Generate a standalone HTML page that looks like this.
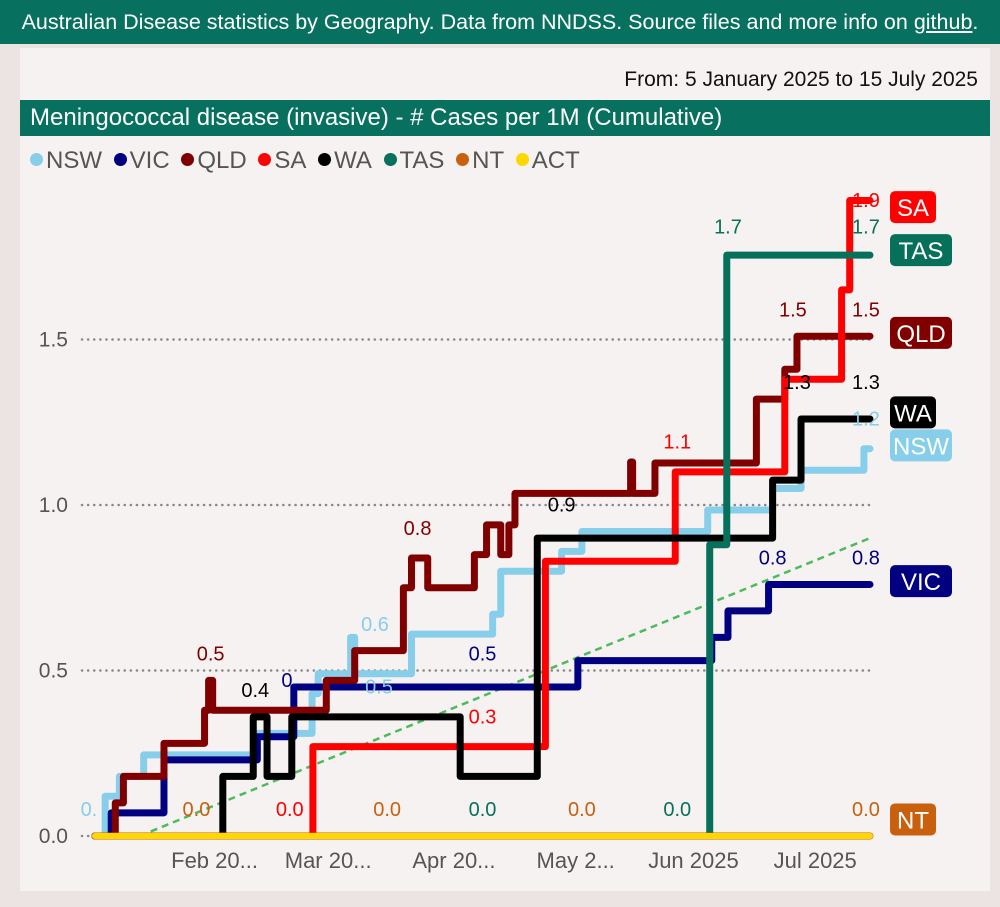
<!DOCTYPE html>
<html><head><meta charset="utf-8">
<style>
body{margin:0;width:1000px;height:907px;background:#ece3e3;font-family:"Liberation Sans","DejaVu Sans",sans-serif;overflow:hidden;position:relative}
#banner{position:absolute;left:0;top:0;width:1000px;height:44px;background:#08705f;color:#fff;font-size:21.5px;line-height:44px;text-align:center;white-space:nowrap}
#banner u{text-decoration:underline}
#card{position:absolute;left:20px;top:48px;width:970px;height:843px;background:#f7f2f2}
#from{position:absolute;right:12px;top:20px;font-size:21px;color:#111}
#title{position:absolute;left:0;top:52px;width:970px;height:36px;background:#08705f;color:#fff;font-size:24px;line-height:36px;padding-left:10px;box-sizing:border-box;white-space:nowrap}
#legend{position:absolute;left:10px;top:99px;font-size:24px;color:#555;white-space:nowrap}
#legend span{margin-right:5px}
#legend i{display:inline-block;width:13px;height:13px;border-radius:50%;margin-right:3px;vertical-align:2px}
svg{position:absolute;left:0;top:0}
</style></head><body>
<div id="banner">Australian Disease statistics by Geography. Data from NNDSS. Source files and more info on <u>github</u>.</div>
<div id="card">
<div id="from">From: 5 January 2025 to 15 July 2025</div>
<div id="title">Meningococcal disease (invasive) - # Cases per 1M (Cumulative)</div>
<div id="legend">
<span><i style="background:#87ceeb"></i>NSW</span>
<span><i style="background:#000080"></i>VIC</span>
<span><i style="background:#800000"></i>QLD</span>
<span><i style="background:#ff0000"></i>SA</span>
<span><i style="background:#000"></i>WA</span>
<span><i style="background:#07705a"></i>TAS</span>
<span><i style="background:#c8600e"></i>NT</span>
<span><i style="background:#ffd700"></i>ACT</span>
</div>
</div>
<svg id="chart" width="1000" height="907"></svg>
<script>
const yTicks=[0,0.5,1.0,1.5];
const xTickDays=[27,55,86,116,147,177];
const xTickLabels=["Feb 20...","Mar 20...","Apr 20...","May 2...","Jun 2025","Jul 2025"];
const seriesNames=["NSW","VIC","QLD","SA","WA","TAS","NT","ACT"];
const seriesColors=["#87ceeb","#000080","#800000","#ff0000","#000000","#07705a","#c8600e","#ffd700"];
const nswDays=[0,2.5,6,12,40,53.5,55,62,63,64,78,98,100,115,120,151,167,174,189.5,191];
const nswVals=[0,0.12,0.18,0.245,0.31,0.43,0.49,0.49,0.6,0.49,0.61,0.67,0.8,0.86,0.92,0.985,1.05,1.105,1.17,1.17];
const vicDays=[0,4,17,40,49,119,152,156,166,191];
const vicVals=[0,0.07,0.23,0.3,0.45,0.53,0.6,0.68,0.76,0.76];
const qldDays=[0,5,7,17,27,28,29,57,64,76,78,80,82,93.5,96.5,98,100,102,103.5,131,132,132.5,138,163,170,173,191];
const qldVals=[0,0.1,0.18,0.28,0.38,0.47,0.38,0.47,0.56,0.75,0.84,0.84,0.75,0.85,0.94,0.94,0.85,0.94,1.035,1.035,1.13,1.035,1.127,1.32,1.41,1.51,1.51];
const saDays=[0,53.7,111,143,170,184,186,191];
const saVals=[0,0.27,0.83,1.1,1.38,1.65,1.92,1.92];
const waDays=[0,31.5,39,42.4,48.5,90,109,167,174,191];
const waVals=[0,0.18,0.36,0.18,0.36,0.18,0.9,1.075,1.26,1.26];
const tasDays=[0,151.5,155.7,191];
const tasVals=[0,0.88,1.755,1.755];
const ntDays=[0,191];
const ntVals=[0,0];
const actDays=[0,191];
const actVals=[0,0];
const trendDays=[11,191];
const trendVals=[0,0.9];
const labelSeries=[0,6,3,6,5,6,5,6,2,4,1,0,0,2,1,3,4,3,5,2,4,1,3,5,2,4,0,1];
const labelDays=[-1.5,25,48,72,95.5,120,143.5,190,28.5,39.5,48,69,70,79.5,95.5,95.5,115,143.5,156,172,173,167,190,190,190,190,190,190];
const labelTexts=["0.","0.0","0.0","0.0","0.0","0.0","0.0","0.0","0.5","0.4","0.","0.6","0.5","0.8","0.5","0.3","0.9","1.1","1.7","1.5","1.3","0.8","1.9","1.7","1.5","1.3","1.2","0.8"];
const labelVals=[0.06,0.06,0.06,0.06,0.06,0.06,0.06,0.06,0.53,0.42,0.45,0.62,0.43,0.91,0.53,0.34,0.98,1.17,1.82,1.57,1.35,0.82,1.9,1.82,1.57,1.35,1.24,0.82];
const tagNames=["SA","TAS","QLD","WA","NSW","VIC","NT"];
const tagSeries=[3,5,2,4,0,1,6];
const tagVals=[1.9,1.77,1.52,1.28,1.18,0.77,0.05];

const svg=document.getElementById('chart');
const NS='http://www.w3.org/2000/svg';
const x0=95,x1=870,dMax=191,y0=836,yScale=331;
const X=d=>x0+(x1-x0)*d/dMax;
const Y=v=>y0-v*yScale;
function mk(t,a){const e=document.createElementNS(NS,t);for(const k in a)e.setAttribute(k,a[k]);svg.appendChild(e);return e;}
yTicks.forEach((v,i)=>{
 const g=mk('line',{x1:82,x2:875,y1:Y(v),y2:Y(v),stroke:'#888','stroke-width':2.5,'stroke-dasharray':'0.1 6','stroke-linecap':'round'});
 
 
 const t=mk('text',{x:68,y:Y(v)+7,'text-anchor':'end','font-size':21,fill:'#555'});
 t.textContent=v.toFixed(1);
 
 
});
xTickDays.forEach((d,i)=>{
 const t=mk('text',{x:X(d)+(xTickLabels[i].includes('...')?10:2),y:868,'text-anchor':'middle','font-size':22,fill:'#555'});
 t.textContent=xTickLabels[i];
 
 
});
const tr=mk('line',{x1:X(trendDays[0]),y1:Y(trendVals[0]),x2:X(trendDays[1]),y2:Y(trendVals[1]),stroke:'#4cbb5c','stroke-width':2.5,'stroke-dasharray':'7 5'});


const allDays=[nswDays,vicDays,qldDays,saDays,waDays,tasDays,ntDays,actDays];
const allVals=[nswVals,vicVals,qldVals,saVals,waVals,tasVals,ntVals,actVals];
[0,1,2,3,4,5,6,7].forEach(s=>{
 const ds=allDays[s],vs=allVals[s];
 let p='M'+X(ds[0])+' '+Y(vs[0]);
 for(let i=1;i<ds.length;i++){p+=' L'+X(ds[i])+' '+Y(vs[i-1])+' L'+X(ds[i])+' '+Y(vs[i]);}
 const e=mk('path',{d:p,fill:'none',stroke:seriesColors[s],'stroke-width':s==7?6:7,'stroke-linejoin':'round','stroke-linecap':'round'});
 
 
});
labelTexts.forEach((txt,i)=>{
 const t=mk('text',{x:X(labelDays[i]),y:Y(labelVals[i]),'text-anchor':'middle','font-size':20,fill:seriesColors[labelSeries[i]]});
 t.textContent=txt;
 
 
});
tagNames.forEach((n,i)=>{
 const w=n.length*16+14,cy=Y(tagVals[i]);
 const r=mk('rect',{x:890,y:cy-16,width:w,height:32,rx:5,fill:seriesColors[tagSeries[i]]});
 
 
 const t=mk('text',{x:890+w/2,y:cy+9,'text-anchor':'middle','font-size':24,fill:'#fff'});
 t.textContent=n;
 
 
});
</script>
</body></html>
